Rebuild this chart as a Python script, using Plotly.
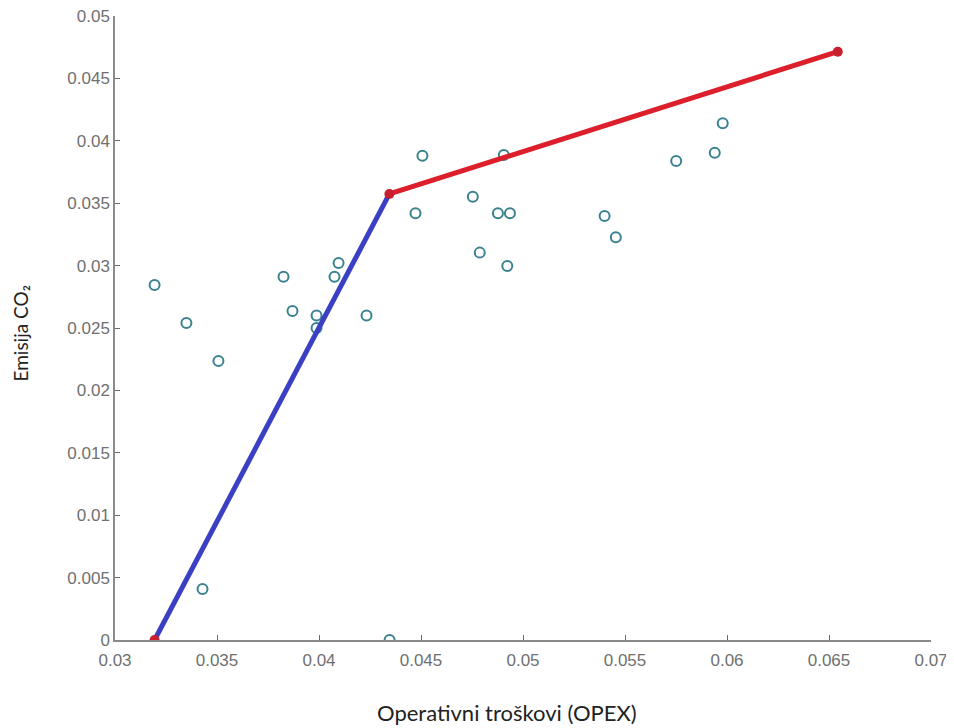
import plotly.graph_objects as go

# Scatter of all solutions (OPEX, CO2 emission)
opex = [0.03194, 0.0335, 0.03507, 0.03429, 0.03826, 0.0387, 0.03988, 0.03988,
        0.04076, 0.04096, 0.04233, 0.04346, 0.04473, 0.04507, 0.04754, 0.04788,
        0.04877, 0.04936, 0.04923, 0.04906, 0.054, 0.05455, 0.05751, 0.0594,
        0.05979]
co2 = [0.02845, 0.0254, 0.02236, 0.00409, 0.0291, 0.02636, 0.0260, 0.0250,
       0.0291, 0.0302, 0.0260, 0.0, 0.0342, 0.0388, 0.03552, 0.03104,
       0.0342, 0.0342, 0.02997, 0.03886, 0.03397, 0.03227, 0.03838, 0.03905,
       0.0414]

# Pareto front segments
blue_x = [0.03194, 0.04345]
blue_y = [0.0, 0.03574]
red_x = [0.04345, 0.06543]
red_y = [0.03574, 0.04714]

x_ticks = [0.03, 0.035, 0.04, 0.045, 0.05, 0.055, 0.06, 0.065, 0.07]
x_labels = ["0.03", "0.035", "0.04", "0.045", "0.05", "0.055", "0.06", "0.065", "0.07"]
y_ticks = [0, 0.005, 0.01, 0.015, 0.02, 0.025, 0.03, 0.035, 0.04, 0.045, 0.05]
y_labels = ["0", "0.005", "0.01", "0.015", "0.02", "0.025", "0.03", "0.035", "0.04", "0.045", "0.05"]

fig = go.Figure()
fig.add_trace(go.Scatter(
    x=opex, y=co2, mode="markers",
    marker=dict(symbol="circle-open", size=10, color="#3a828e", line=dict(width=2)),
    showlegend=False, hoverinfo="skip"))
fig.add_trace(go.Scatter(
    x=blue_x, y=blue_y, mode="lines",
    line=dict(color="#3b3fc4", width=5), showlegend=False))
fig.add_trace(go.Scatter(
    x=red_x, y=red_y, mode="lines",
    line=dict(color="#dc1f2b", width=5), showlegend=False))
fig.add_trace(go.Scatter(
    x=[blue_x[0], red_x[0], red_x[1]], y=[blue_y[0], red_y[0], red_y[1]], mode="markers",
    marker=dict(symbol="circle", size=10, color="#c8202e"), showlegend=False))

axis_common = dict(
    showgrid=False, zeroline=False, showline=True, linecolor="#8a8a8a", linewidth=1.5,
    ticks="inside", ticklen=5, tickwidth=1.2, tickcolor="#6a6a6a",
    ticklabeloverflow="allow", automargin=False,
    tickfont=dict(family="Liberation Sans, Arial", size=17, color="#707070"),
)

fig.update_layout(
    width=946, height=720,
    margin=dict(l=106.5, r=23.3, t=8, b=88, autoexpand=False),
    paper_bgcolor="white", plot_bgcolor="white",
    xaxis=dict(range=[0.03, 0.07], tickvals=x_ticks, ticktext=x_labels,
               ticklabelstandoff=4, **axis_common),
    yaxis=dict(range=[0, 0.05], tickvals=y_ticks, ticktext=y_labels, **axis_common),
    annotations=[
        dict(text="Operativni troškovi (OPEX)", xref="paper", yref="paper",
             x=0.481, y=-0.1154, showarrow=False, xanchor="center", yanchor="middle",
             font=dict(family="Lato", size=22, color="#222222")),
        dict(text="Emisija CO₂", xref="paper", yref="paper",
             x=-0.1158, y=0.492, showarrow=False, xanchor="center", yanchor="middle",
             textangle=-90,
             font=dict(family="Lato", size=19, color="#222222")),
    ],
)

fig.write_html("out.html")
